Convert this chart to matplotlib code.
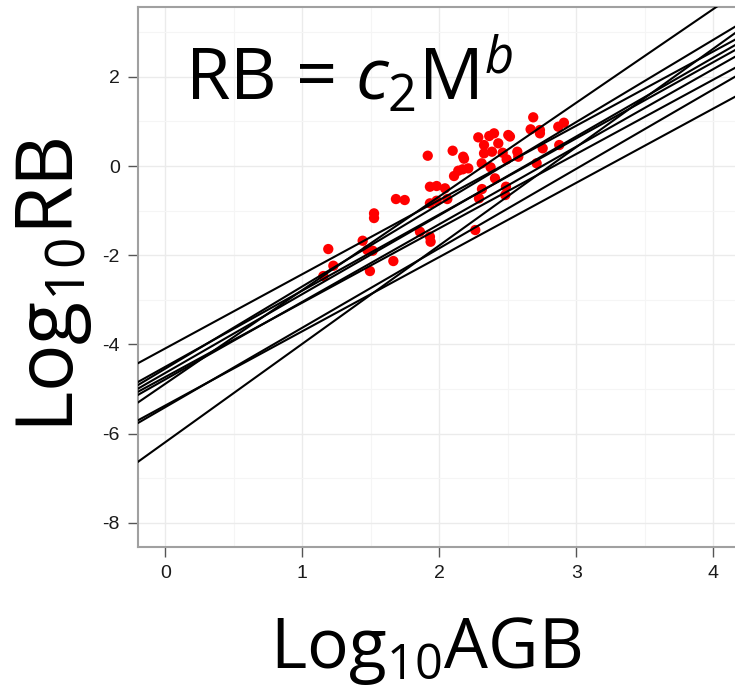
import matplotlib
matplotlib.use("Agg")
import matplotlib.pyplot as plt
import numpy as np

# ---- data ----
# red points (log10 AGB, log10 RB)
pts_x = [1.153, 1.189, 1.226, 1.440, 1.474, 1.513, 1.493, 1.523, 1.523, 1.683,
         1.747, 1.664, 1.858, 1.931, 1.936, 1.915, 1.931, 1.980, 2.041, 1.931,
         1.980, 2.058, 2.097, 2.180, 2.107, 2.138, 2.170, 2.211, 2.289, 2.311,
         2.262, 2.284, 2.326, 2.364, 2.399, 2.430, 2.326, 2.384, 2.309, 2.374,
         2.462, 2.491, 2.503, 2.515, 2.569, 2.576, 2.406, 2.486, 2.481, 2.685,
         2.666, 2.734, 2.734, 2.754, 2.710, 2.868, 2.909, 2.875, 2.174]
pts_y = [-2.466, -1.861, -2.235, -1.675, -1.883, -1.899, -2.354, -1.061, -1.166, -0.740,
         -0.762, -2.130, -1.473, -1.585, -1.697, 0.231, -0.464, -0.448, -0.500, -0.836,
         -0.778, -0.740, 0.343, 0.164, -0.224, -0.105, -0.074, -0.052, -0.724, -0.516,
         -1.435, 0.643, 0.471, 0.673, 0.733, 0.509, 0.285, 0.321, 0.061, -0.029,
         0.298, 0.150, 0.695, 0.661, 0.321, 0.209, -0.276, -0.464, -0.650, 1.092,
         0.823, 0.807, 0.733, 0.397, 0.061, 0.881, 0.971, 0.471, 0.209]

# fitted allometric lines: log10 RB = a + b * log10 AGB
line_a = [-4.087, -4.499, -4.541, -4.637, -4.727, -4.782, -4.880, -5.367, -5.404, -6.189]
line_b = [1.664, 1.707, 1.843, 1.767, 1.666, 1.739, 2.100, 1.664, 1.781, 2.205]

x_ticks = [0, 1, 2, 3, 4]
y_ticks = [-8, -6, -4, -2, 0, 2]

plt.rcParams['mathtext.fontset'] = 'custom'
plt.rcParams['mathtext.rm'] = 'Open Sans'
plt.rcParams['mathtext.it'] = 'Open Sans:italic'
plt.rcParams['axes.unicode_minus'] = False

W, H = 735, 686
fig = plt.figure(figsize=(W / 100, H / 100), dpi=100)
ax = fig.add_axes([138 / W, 1 - 547 / H, 1 - 138 / W, (547 - 7) / H])

xs = np.array([-0.2, 4.4])
for a, b in zip(line_a, line_b):
    ax.plot(xs, a + b * xs, color='black', linewidth=1.5, zorder=3)

ax.scatter(pts_x, pts_y, s=55, color='#ff0000', edgecolors='none', zorder=2)

ax.set_xticks(x_ticks)
ax.set_yticks(y_ticks)
ax.set_xticks(np.arange(0.5, 4.6, 1.0), minor=True)
ax.set_yticks(np.arange(-7, 4, 2), minor=True)
ax.set_xlim(-0.2, 4.158)
ax.set_ylim(-8.54, 3.565)

ax.grid(which='major', color='#ebebeb', linewidth=1.0)
ax.grid(which='minor', color='#f5f5f5', linewidth=0.8)
ax.set_axisbelow(True)

for s in ['left', 'bottom', 'top']:
    ax.spines[s].set_color('#a0a0a0')
    ax.spines[s].set_linewidth(1.5)
ax.spines['right'].set_visible(False)

ax.tick_params(which='major', direction='out', length=7, width=1.0, color='#555555',
               labelsize=14, labelcolor='#1a1a1a', pad=6)
ax.tick_params(which='minor', length=0)
for lab in ax.get_xticklabels() + ax.get_yticklabels():
    lab.set_fontfamily('Liberation Sans')

ax.text(0.079, 0.828, r'RB = $\mathit{c}_2$M$^{\mathit{b}}$', transform=ax.transAxes,
        fontsize=52, family='Open Sans', va='baseline', ha='left')

fig.text(426 / W, 1 - 668 / H, r'Log$_{10}$AGB', fontsize=50, family='Open Sans',
         ha='center', va='baseline')
fig.text(73 / W, 1 - 285 / H, r'Log$_{10}$RB', fontsize=57, family='Open Sans',
         ha='center', va='baseline', rotation=90, rotation_mode='anchor')

fig.savefig('out.png', dpi=100)
